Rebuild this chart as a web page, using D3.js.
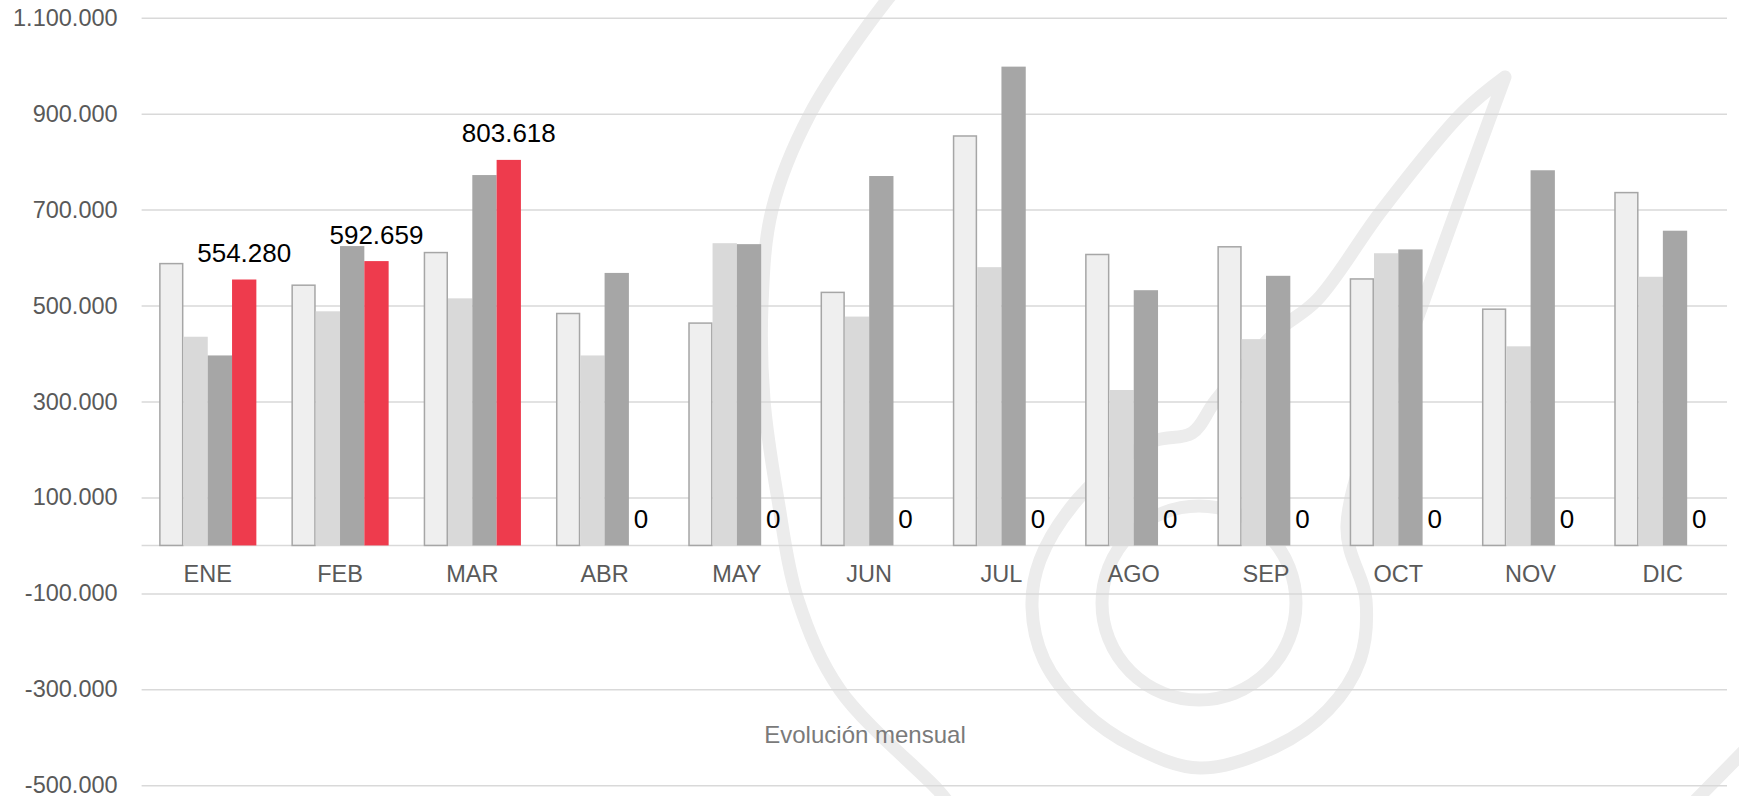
<html>
<head>
<style>
  body { margin: 0; background: #fff; }
  text { font-family: "Liberation Sans", Arial, sans-serif; }
</style>
</head>

<body>
  <svg id="svg" width="1739" height="796"></svg>

  <script src="https://cdn.jsdelivr.net/npm/d3@7"></script>
  <script type="text/javascript">
  // data
  let months = ["ENE","FEB","MAR","ABR","MAY","JUN","JUL","AGO","SEP","OCT","NOV","DIC"];
  let series = ["s1","s2","s3","s4"];
  let s1 = [589000,544000,612000,485000,465000,529000,855000,608000,624000,557000,494000,737000];
  let s2 = [435000,488000,515000,396000,630000,477000,580000,324000,430000,609000,415000,560000];
  let s3 = [396000,624000,772000,568000,628000,770000,998000,532000,562000,617000,782000,656000];
  let s4 = [554280,592659,803618,0,0,0,0,0,0,0,0,0];
  let yTicks = [-500000,-300000,-100000,100000,300000,500000,700000,900000,1100000];
  let xTitle = "Evolución mensual";

  // watermark (background logo), page coords
  let wmArc = [[905,-20],[887,0],[810,114],[772,210],[762,305],[764,400],[778,500],[798,600],[840,690],[938,790],[950,805]];
  let wmLoop = [[1505,77],[1424,300],[1347,525],[1366,600],[1360,660],[1328,710],[1275,747],[1200,768],
                [1135,747],[1082,710],[1044,660],[1032,607],[1040,560],[1077,500],[1125,457],[1157,440],
                [1192,433],[1216,400],[1275,333],[1317,300],[1382,210],[1462,113],[1505,77]];
  let wmCorner = [[1690,806],[1745,750]];

  let colors = {s1: "#efefef", s2: "#d9d9d9", s3: "#a6a6a6", s4: "#ee3b4d"};
  let loc = d3.formatLocale({decimal: ",", thousands: ".", grouping: [3], currency: ["", ""], minus: "-"});
  let fmt = loc.format(",.0f");

  let svg = d3.select("#svg");
  let pL = 141.6, pR = 1729, pT = 17.7, pB = 785.3;

  let y = d3.scaleLinear().domain([-500000, 1100000]).range([pB, pT]);
  let x0 = d3.scaleBand().domain(months).range([pL, pR]).paddingInner(0.265).paddingOuter(0.1325);
  let x1 = d3.scaleBand().domain(series).range([0, x0.bandwidth()]);

  // watermark
  let wm = svg.append("g").attr("fill", "none").attr("stroke", "#ececec")
    .attr("stroke-width", 13).attr("stroke-linecap", "round").attr("stroke-linejoin", "round");
  wm.append("path").attr("d", d3.line().curve(d3.curveCatmullRom)(wmArc));
  wm.append("path").attr("d", d3.line().curve(d3.curveCatmullRom)(wmLoop));
  wm.append("path").attr("d", d3.line()(wmCorner));
  wm.append("circle").attr("cx", 1199).attr("cy", 603).attr("r", 97);

  // gridlines + y labels
  let yAxis = d3.axisLeft(y).tickValues(yTicks).tickFormat(fmt).tickSize(-(pR - 2 - pL)).tickPadding(24);
  let ga = svg.append("g").attr("transform", "translate(" + pL + ",0)").call(yAxis);
  ga.select(".domain").remove();
  ga.selectAll("line").attr("stroke", "#d9d9d9").attr("stroke-width", 1.5);
  ga.selectAll("text").attr("fill", "#595959").style("font-size", "23.5px")
    .style("font-family", "'Liberation Sans', Arial, sans-serif");

  // zero line
  svg.append("line").attr("x1", pL).attr("x2", pR - 2)
    .attr("y1", y(0)).attr("y2", y(0))
    .attr("stroke", "#d9d9d9").attr("stroke-width", 1.5);

  // bars
  let rows = months.map((m, i) => ({m: m, s1: s1[i], s2: s2[i], s3: s3[i], s4: s4[i]}));
  let groups = svg.append("g").selectAll("g").data(rows).enter().append("g")
    .attr("transform", d => "translate(" + x0(d.m) + ",0)");
  groups.selectAll("rect").data(d => series.map(k => ({k: k, v: d[k]}))).enter().append("rect")
    .attr("x", d => x1(d.k) + (d.k == "s1" ? 0.75 : 0))
    .attr("y", d => y(d.v) + (d.k == "s1" ? 0.75 : 0))
    .attr("width", d => x1.bandwidth() - (d.k == "s1" ? 1.5 : 0))
    .attr("height", d => Math.max(0, y(0) - y(d.v) - (d.k == "s1" ? 0.75 : 0)))
    .attr("fill", d => colors[d.k])
    .attr("stroke", d => d.k == "s1" ? "#a6a6a6" : "none")
    .attr("stroke-width", 1.5);

  // data labels for s4
  groups.append("text")
    .attr("x", x1("s4") + x1.bandwidth() / 2)
    .attr("y", d => y(d.s4) - 17.5)
    .attr("text-anchor", "middle")
    .attr("fill", "#000")
    .style("font-size", "26px")
    .text(d => fmt(d.s4));

  // category labels
  svg.append("g").selectAll("text").data(months).enter().append("text")
    .attr("x", d => x0(d) + x0.bandwidth() / 2)
    .attr("y", y(0) + 37)
    .attr("text-anchor", "middle")
    .attr("fill", "#595959")
    .style("font-size", "23.5px")
    .text(d => d);

  // axis title
  svg.append("text")
    .attr("x", 865).attr("y", 743)
    .attr("text-anchor", "middle")
    .attr("fill", "#7a7a7a")
    .style("font-size", "24px")
    .text(xTitle);
  </script>
</body>
</html>
